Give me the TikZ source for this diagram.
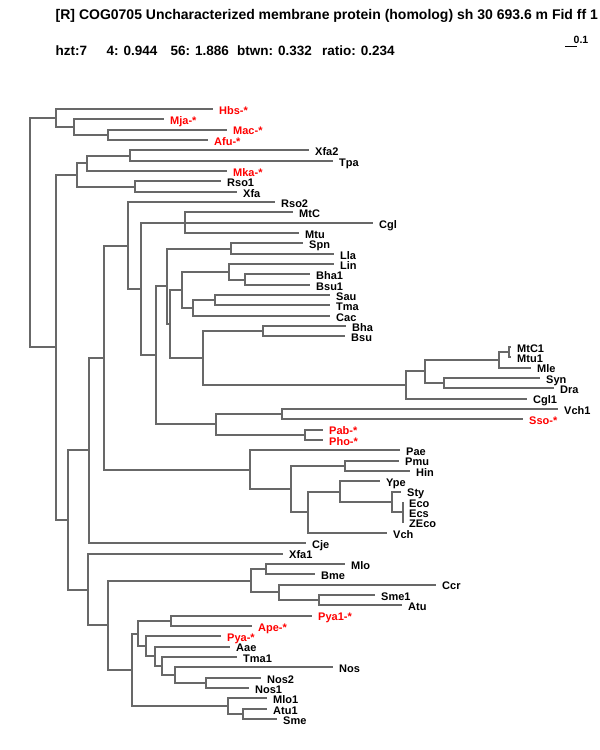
\documentclass[tikz,border=0pt]{standalone}
\usepackage{fontspec}
\setmainfont{Liberation Sans}
\usepackage{tikz}
\definecolor{brgray}{RGB}{104,104,104}

\begin{document}
\begin{tikzpicture}[x=1pt, y=-10.34pt, inner sep=0pt]
    \useasboundingbox (0,-10.542) rectangle (600,61.992);
    \clip (0,-10.542) rectangle (600,61.992);

    \tikzstyle{br}=[draw=brgray, line width=2pt];
    \tikzstyle{lbl}=[anchor=base west, xshift=6pt, yshift=-5.3pt, font=\fontsize{11}{12}\selectfont\bfseries];
    \tikzstyle{hd}=[anchor=base west, font=\fontsize{13.5}{15}\selectfont\bfseries];

    % header
    \node[hd, font=\fontsize{14}{15}\selectfont\bfseries] (title) at (55.5,-8.704) {[R] COG0705 Uncharacterized membrane protein (homolog) sh 30 693.6 m Fid ff 1};
    \node[hd] (hzt) at (55.5,-5.222) {hzt:7};
    \node[hd] (st4) at (106.5,-5.222) {4: 0.944};
    \node[hd] (st56) at (170.5,-5.222) {56: 1.886};
    \node[hd] (btwn) at (237,-5.222) {btwn: 0.332};
    \node[hd] (ratio) at (322,-5.222) {ratio: 0.234};

    % scale bar
    \coordinate (sb1) at (565,-6.0);
    \coordinate (sb2) at (577,-6.0);
    \draw[line width=1pt] (sb1) -- (sb2);
    \node[anchor=base west, font=\fontsize{10.5}{12}\selectfont\bfseries] (sbl) at (573.5,-6.38) {0.1};

    % leaves: name / branch end / colour / suffix, one row each
    \foreach \nm/\x/\cl/\sf [count=\i from 0] in {Hbs/213/red/-*, Mja/164/red/-*, Mac/227/red/-*, Afu/208/red/-*,
        Xfa2/309/black/{}, Tpa/333/black/{}, Mka/227/red/-*, Rso1/221/black/{}, Xfa/237/black/{},
        Rso2/275/black/{}, MtC/293/black/{}, Cgl/373/black/{}, Mtu/299/black/{}, Spn/303/black/{},
        Lla/334/black/{}, Lin/334/black/{}, Bha1/310/black/{}, Bsu1/310/black/{}, Sau/330/black/{},
        Tma/330/black/{}, Cac/330/black/{}, Bha/346/black/{}, Bsu/345/black/{}, MtC1/511/black/{},
        Mtu1/511/black/{}, Mle/531/black/{}, Syn/540/black/{}, Dra/554/black/{}, Cgl1/527/black/{},
        Vch1/558/black/{}, Sso/523/red/-*, Pab/323/red/-*, Pho/323/red/-*, Pae/400/black/{},
        Pmu/399/black/{}, Hin/410/black/{}, Ype/380/black/{}, Sty/401/black/{}, Eco/403/black/{},
        Ecs/403/black/{}, ZEco/403/black/{}, Vch/387/black/{}, Cje/306/black/{}, Xfa1/283/black/{},
        Mlo/345/black/{}, Bme/315/black/{}, Ccr/436/black/{}, Sme1/375/black/{}, Atu/402/black/{},
        Pya1/312/red/-*, Ape/252/red/-*, Pya/221/red/-*, Aae/230/black/{}, Tma1/237/black/{},
        Nos/333/black/{}, Nos2/261/black/{}, Nos1/249/black/{}, Mlo1/267/black/{}, Atu1/267/black/{},
        Sme/277/black/{}}{
        \coordinate (\nm) at (\x,\i);
        \node[lbl, text=\cl] (t\nm) at (\nm) {\nm\sf};
    }

    % inner nodes
    \foreach \nm/\x/\y in {r/30/11.97, a/56/0.875, b/74/1.75, c/108/2.5, d/56/23.06, e/77/6.375,
        g/87/5.25, i/130/4.5, h/135/7.5, f/68/39.745, j/89/33.02, l/104/24.04, m/128/13.21,
        o/141/17.41, p/185/11, q/156/23.82, s/167/17.15, u/231/13.5, v/170/20.8, w/182/17.5,
        w1/229/15.75, w3/245/16.5, w2/193/19.25, w4/215/18.5, z/203/24.09, z1/263/21.5,
        z2/406/26.69, z3/425/25.38, z4/499/24.25, z6/509/23.5, z5/444/26.5, t/216/30.5,
        t1/282/29.5, t2/305/31.5, n/250/34.875, n1/291/36.75, n2/345/34.5, n3/308/39,
        n4/340/37, n5/392/38, n6/403/39, k/88/46.47, k1/108/49.93, k2/251/45.625, k4/266/44.5,
        k5/279/46.75, k6/319/47.5, k3/132/54.24, k7/138/50.735, k9/171/49.5, k10/146/51.97,
        k11/155/52.94, k12/162/53.875, k13/175/54.75, k14/206/55.5, k8/228/57.75, k15/243/58.5}
        \coordinate (\nm) at (\x,\y);

    % branches
    \foreach \pa/\ch in {r/a, r/d, a/Hbs, a/b, b/Mja, b/c, c/Mac, c/Afu,
        d/e, d/f, e/g, e/h, g/i, g/Mka, i/Xfa2, i/Tpa, h/Rso1, h/Xfa,
        f/j, f/k, j/l, j/Cje, l/m, l/n, m/Rso2, m/o, o/p, o/q, p/MtC, p/Cgl, p/Mtu,
        q/s, q/t, s/u, s/v, u/Spn, u/Lla, v/w, v/z, w/w1, w/w2, w1/Lin, w1/w3,
        w3/Bha1, w3/Bsu1, w2/w4, w2/Cac, w4/Sau, w4/Tma, z/z1, z/z2, z1/Bha, z1/Bsu,
        z2/z3, z2/Cgl1, z3/z4, z3/z5, z4/z6, z4/Mle, z6/MtC1, z6/Mtu1, z5/Syn, z5/Dra,
        t/t1, t/t2, t1/Vch1, t1/Sso, t2/Pab, t2/Pho,
        n/Pae, n/n1, n1/n2, n1/n3, n2/Pmu, n2/Hin, n3/n4, n3/Vch, n4/Ype, n4/n5,
        n5/Sty, n5/n6, n6/Eco, n6/Ecs, n6/ZEco,
        k/Xfa1, k/k1, k1/k2, k1/k3, k2/k4, k2/k5, k4/Mlo, k4/Bme, k5/Ccr, k5/k6,
        k6/Sme1, k6/Atu, k3/k7, k3/k8, k7/k9, k7/k10, k9/Pya1, k9/Ape, k10/Pya, k10/k11,
        k11/Aae, k11/k12, k12/Tma1, k12/k13, k13/Nos, k13/k14, k14/Nos2, k14/Nos1,
        k8/Mlo1, k8/k15, k15/Atu1, k15/Sme}
        \draw[br] (\pa) |- (\ch);
\end{tikzpicture}
\end{document}
